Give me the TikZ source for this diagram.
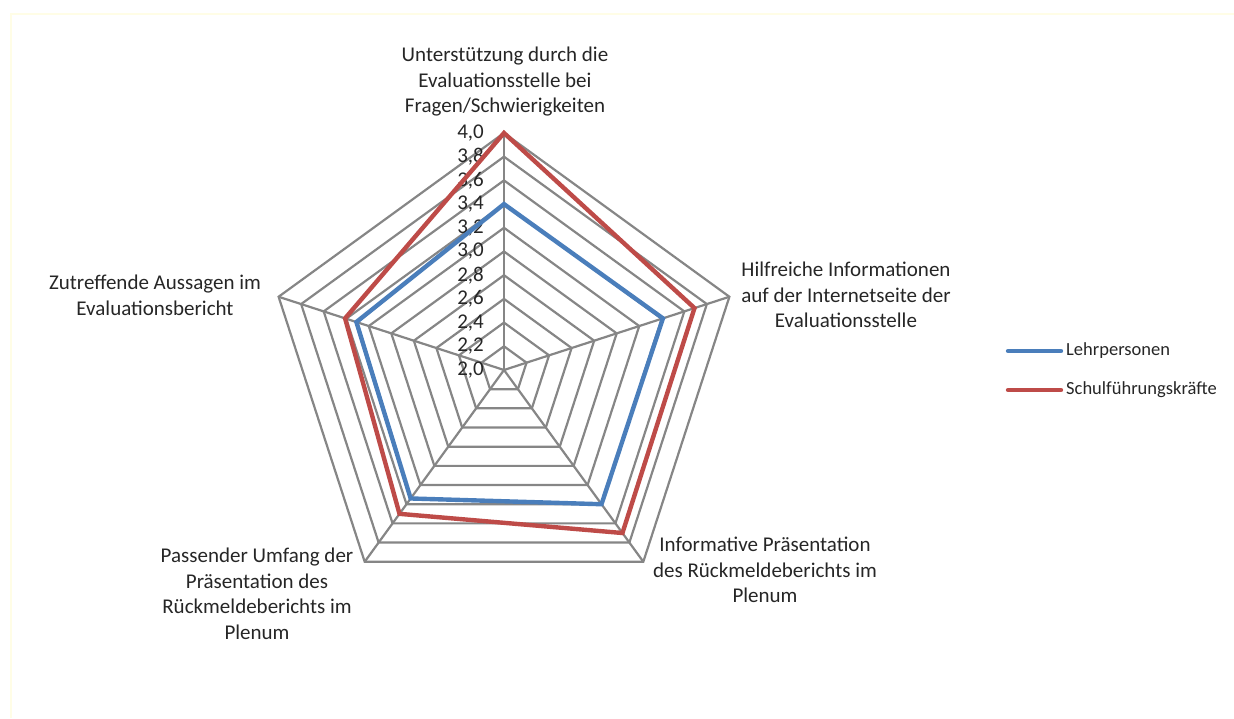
\documentclass[tikz,border=0pt]{standalone}
\usepackage{fontspec}
\setmainfont{Carlito}
\usepackage{xcolor}
\definecolor{gridgray}{HTML}{868686}
\definecolor{lpblue}{HTML}{4A7EBB}
\definecolor{sfred}{HTML}{BE4B48}
\definecolor{txtgray}{HTML}{262626}
\definecolor{framey}{HTML}{FFFDE6}

\begin{document}
\begin{tikzpicture}[x=1pt,y=1pt,
  grid/.style={draw=gridgray, line width=2.2pt, line join=miter},
  series/.style={line width=4.4pt, line join=miter},
  axislabel/.style={align=center, inner sep=0pt, text=txtgray,
    font=\fontsize{21}{25.5}\selectfont},
  tick/.style={anchor=east, inner sep=0pt, text=txtgray,
    font=\fontsize{21}{23}\selectfont},
  legend/.style={anchor=west, inner sep=0pt, text=txtgray,
    font=\fontsize{18.5}{20}\selectfont}]
\useasboundingbox (0,0) rectangle (1234,718);
\def\R{237}
% faint outer frame
\draw[framey, line width=1.5pt] (11,0) -- (11,704) -- (1234,704);
%
\begin{scope}[shift={(504,348)}]
\coordinate (C) at (0,0);
% rings
\foreach \k in {1,...,10}{
  \pgfmathsetmacro\r{\k*\R/10}
  \draw[grid] (90:\r) -- (18:\r) -- (-54:\r) -- (-126:\r) -- (162:\r) -- cycle;
}
% spokes
\foreach \a [count=\i] in {90,18,-54,-126,162}
  \draw[grid] (C) -- (\a:\R) coordinate (v\i);
% scale
\foreach \lab [count=\k from 0] in {{2,0},{2,2},{2,4},{2,6},{2,8},{3,0},
    {3,2},{3,4},{3,6},{3,8},{4,0}}
  \node[tick] (t\k) at (-20,\k*\R/10) {\lab};
% data
\draw[series, lpblue] (90:165.9) -- (18:167.1) -- (-54:165.9)
  -- (-126:158.8) -- (162:155.2) -- cycle;
\draw[series, sfred] (90:237) -- (18:200.3) -- (-54:201.5)
  -- (-126:177.8) -- (162:167.1) -- cycle;
\end{scope}
%
\node[axislabel] (a1) at (505,636)
  {Unterstützung durch die\\Evaluationsstelle bei\\Fragen/Schwierigkeiten};
\node[axislabel] (a2) at (846,423)
  {Hilfreiche Informationen\\auf der Internetseite der\\Evaluationsstelle};
\node[axislabel] (a3) at (765,148)
  {Informative Präsentation\\des Rückmeldeberichts im\\Plenum};
\node[axislabel] (a4) at (257,124)
  {Passender Umfang der\\Präsentation des\\Rückmeldeberichts im\\Plenum};
\node[axislabel] (a5) at (155,422.5)
  {Zutreffende Aussagen im\\Evaluationsbericht};
% legend
\coordinate (l1) at (1008,367);
\coordinate (l2) at (1008,328);
\draw[series, lpblue, line cap=round] (l1) -- ++(53,0) node[legend, right=3pt] (lt1) {Lehrpersonen};
\draw[series, sfred, line cap=round] (l2) -- ++(53,0) node[legend, right=3pt] (lt2) {Schulführungskräfte};
\end{tikzpicture}
\end{document}
